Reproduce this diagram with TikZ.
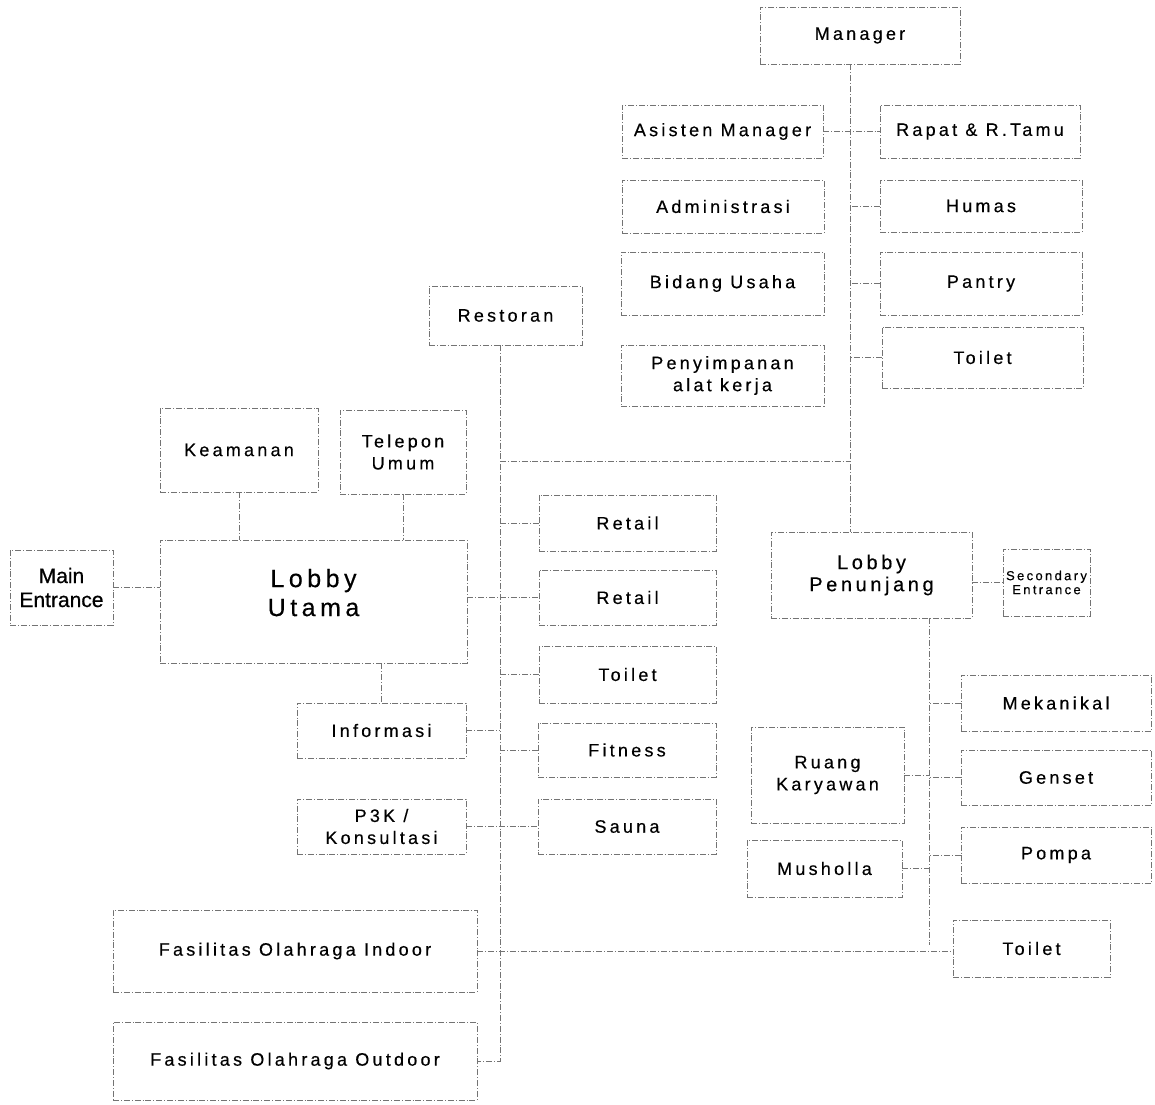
\documentclass[tikz,border=0pt]{standalone}
\usepackage{fontspec}
\setmainfont{Liberation Sans}[LetterSpace=18, FakeBold=0.4]
\newfontfamily\plainfont{Liberation Sans}[FakeBold=0.6]

\begin{document}
\begin{tikzpicture}[x=0.5pt, y=-0.5pt,
    room/.style={draw=black!55, densely dashdotted, line width=0.45pt, align=center, inner sep=0pt,
        font=\fontsize{9}{11}\selectfont},
    link/.style={draw=black!55, densely dashdotted, line width=0.45pt}]
    \useasboundingbox (0, 0) rectangle (1155, 1104);
    % kantor pengelola
    \node[room, minimum width=100pt, minimum height=28.5pt] (manager) at (860, 35.5) {Manager};
    \node[room, minimum width=100.5pt, minimum height=26.5pt] (asisten) at (722.5, 131.5) {Asisten Manager};
    \node[room, minimum width=101pt, minimum height=26.5pt] (admin) at (723, 206.5) {Administrasi};
    \node[room, minimum width=101.5pt, minimum height=31.5pt] (bidang) at (722.5, 283.5) {Bidang Usaha};
    \node[room, minimum width=101.5pt, minimum height=30.5pt] (simpan) at (722.5, 375.5) {Penyimpanan\\alat kerja};
    \node[room, minimum width=100pt, minimum height=26.5pt] (rapat) at (980, 131.5) {Rapat \& R.Tamu};
    \node[room, minimum width=101pt, minimum height=26pt] (humas) at (981, 206) {Humas};
    \node[room, minimum width=101pt, minimum height=31.5pt] (pantry) at (981, 283.5) {Pantry};
    \node[room, minimum width=100.5pt, minimum height=30.5pt] (toiletA) at (982.5, 357.5) {Toilet};
    % lobby utama
    \node[room, minimum width=76.5pt, minimum height=29.5pt] (restoran) at (505.5, 315.5) {Restoran};
    \node[room, minimum width=79pt, minimum height=42pt] (keamanan) at (239, 450) {Keamanan};
    \node[room, minimum width=63pt, minimum height=42pt] (telepon) at (403, 452) {Telepon\\Umum};
    \node[room, minimum width=153.5pt, minimum height=61.5pt, text depth=9pt,
        font=\fontsize{12.5}{14.5}\selectfont] (lobbyU) at (313.5, 601.5) {Lobby\\Utama};
    \node[room, minimum width=51.5pt, minimum height=37.5pt, font=\plainfont\fontsize{10.5}{12}\selectfont] (mainE) at (61.5, 587.5) {Main\\Entrance};
    \node[room, minimum width=88.5pt, minimum height=28pt] (retail1) at (627.5, 523) {Retail};
    \node[room, minimum width=88.5pt, minimum height=27.5pt] (retail2) at (627.5, 597.5) {Retail};
    \node[room, minimum width=88.5pt, minimum height=28.5pt] (toiletB) at (627.5, 674.5) {Toilet};
    \node[room, minimum width=89pt, minimum height=27pt] (fitness) at (627, 750) {Fitness};
    \node[room, minimum width=89pt, minimum height=27.5pt] (sauna) at (627, 826.5) {Sauna};
    \node[room, minimum width=84.5pt, minimum height=27.5pt] (info) at (381.5, 730.5) {Informasi};
    \node[room, minimum width=84.5pt, minimum height=27.5pt] (p3k) at (381.5, 826.5) {P3K /\\Konsultasi};
    \node[room, minimum width=182pt, minimum height=41pt] (indoor) at (295, 951) {Fasilitas Olahraga Indoor};
    \node[room, minimum width=182pt, minimum height=39pt] (outdoor) at (295, 1061) {Fasilitas Olahraga Outdoor};
    % lobby penunjang
    \node[room, minimum width=100.5pt, minimum height=43pt, font=\fontsize{10}{11}\selectfont] (lobbyP) at (871.5, 575) {Lobby\\Penunjang};
    \node[room, minimum width=43.5pt, minimum height=33.5pt, font=\fontsize{6.5}{7}\selectfont] (second) at (1046.5, 582.5) {Secondary\\Entrance};
    \node[room, minimum width=95pt, minimum height=28pt] (mekanikal) at (1056, 703) {Mekanikal};
    \node[room, minimum width=95pt, minimum height=27.5pt] (genset) at (1056, 777.5) {Genset};
    \node[room, minimum width=95pt, minimum height=28pt] (pompa) at (1056, 855) {Pompa};
    \node[room, minimum width=76.5pt, minimum height=48pt] (ruang) at (827.5, 775) {Ruang\\Karyawan};
    \node[room, minimum width=77.5pt, minimum height=28.5pt] (musholla) at (824.5, 868.5) {Musholla};
    \node[room, minimum width=78.5pt, minimum height=28.5pt] (toiletC) at (1031.5, 948.5) {Toilet};

    \coordinate (mspine) at (850, 461);
    \coordinate (rspine) at (500, 461);
    \coordinate (pspine) at (929, 945);

    \draw[link] (manager.south -| mspine) -- (lobbyP.north -| mspine);
    \draw[link] (asisten.east) -- (rapat.west);
    \draw[link] (humas.west) -- (humas.west -| mspine);
    \draw[link] (pantry.west) -- (pantry.west -| mspine);
    \draw[link] (toiletA.west) -- (toiletA.west -| mspine);
    \draw[link] (rspine) -- (mspine);

    \draw[link] (restoran.south -| rspine) -- (outdoor.east -| rspine) -- (outdoor.east);
    \draw[link] (keamanan.south) -- (keamanan.south |- lobbyU.north);
    \draw[link] (telepon.south) -- (telepon.south |- lobbyU.north);
    \draw[link] (mainE.east) -- (mainE.east -| lobbyU.west);
    \draw[link] (retail2.west -| lobbyU.east) -- (retail2.west);
    \draw[link] (retail1.west) -- (retail1.west -| rspine);
    \draw[link] (toiletB.west) -- (toiletB.west -| rspine);
    \draw[link] (fitness.west) -- (fitness.west -| rspine);
    \draw[link] (lobbyU.south -| info.north) -- (info.north);
    \draw[link] (info.east) -- (info.east -| rspine);
    \draw[link] (p3k.east) -- (sauna.west);
    \draw[link] (indoor.east) -- (indoor.east -| toiletC.west);

    \draw[link] (second.west -| lobbyP.east) -- (second.west);
    \draw[link] (lobbyP.south -| pspine) -- (pspine);
    \draw[link] (mekanikal.west) -- (mekanikal.west -| pspine);
    \draw[link] (genset.west) -- (genset.west -| pspine);
    \draw[link] (pompa.west) -- (pompa.west -| pspine);
    \draw[link] (ruang.east) -- (ruang.east -| pspine);
    \draw[link] (musholla.east) -- (musholla.east -| pspine);
\end{tikzpicture}
\end{document}
